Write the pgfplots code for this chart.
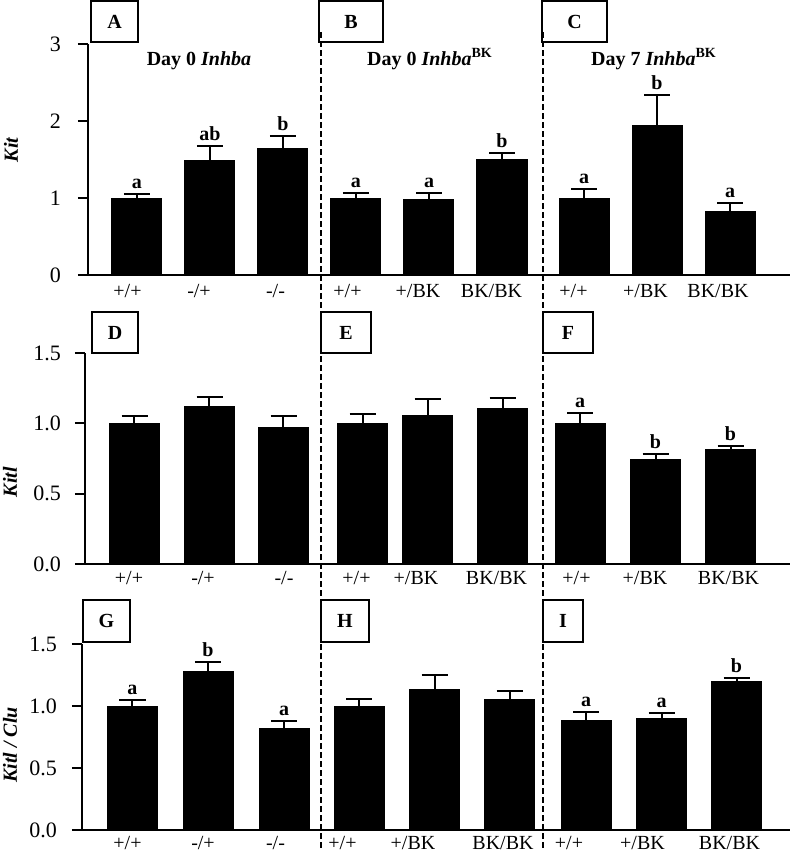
\documentclass[border=0pt]{standalone}
\usepackage{pgfplots}
\usepackage{pgfplotstable}
\pgfplotsset{compat=1.18}
\usepackage{fontspec}
\setmainfont{Liberation Serif}

\pgfplotstableread{
x y e l
137 1.00 0.05 a
210 1.49 0.19 ab
283 1.64 0.16 b
356 1.00 0.07 a
429 0.98 0.08 a
502 1.50 0.08 b
584 1.00 0.12 a
657 1.94 0.40 b
730 0.83 0.11 a
}\rowA

\pgfplotstableread{
x y e l
134.5 1.00 0.05 {}
209.5 1.12 0.065 {}
283.5 0.97 0.08 {}
362.5 1.00 0.064 {}
427.5 1.057 0.114 {}
502.5 1.107 0.072 {}
580 1.00 0.075 a
655.5 0.743 0.036 b
730.5 0.814 0.022 b
}\rowB

\pgfplotstableread{
x y e l
132.5 1.00 0.05 a
208 1.282 0.073 b
284 0.815 0.064 a
359 1.00 0.06 {}
434.5 1.137 0.113 {}
509.5 1.056 0.065 {}
586 0.887 0.065 a
661.5 0.903 0.041 a
736.5 1.194 0.032 b
}\rowC

\begin{document}
\begin{tikzpicture}
\useasboundingbox (0,0) rectangle (396pt,-426.5pt);
\pgfplotsset{
 panel/.style={
  x=0.5pt, anchor=south west, clip=false, enlargelimits=false,
  axis x line*=bottom, axis y line*=left, axis line style={-, line width=1pt},
  tick align=outside, major tick length=5pt, tick style={line width=1pt, black},
  xtick style={draw=none},
  /pgf/number format/assume math mode=true,
  yticklabel style={font=\fontsize{11}{13}\selectfont},
  xticklabel style={font=\fontsize{10}{12}\selectfont},
  xmax=790, ymin=0,
  xticklabels={+/+,-/+,-/-,+/+,+/BK,BK/BK,+/+,+/BK,BK/BK},
 },
 bars/.style={ybar, bar width=50, fill=black, draw=black, line width=0.5pt,
   error bars/.cd, y dir=plus, y explicit,
   error bar style={line width=1pt, black},
   error mark options={rotate=90, line width=1pt, mark size=6.5pt, black}},
 lett/.style={draw=none, mark=none, nodes near coords, point meta=explicit symbolic,
   nodes near coords style={anchor=south, font=\fontsize{10}{12}\selectfont\bfseries, inner sep=2.5pt, black}},
}

\begin{axis}[panel, at={(44pt,-137.5pt)}, xmin=88, ymax=3, y=38.5pt,
  ytick={0,1,2,3},
  yticklabel style={xshift=-5pt},
  xticklabel style={yshift=4pt},
  xtick={127.5,199,275.5,347.5,418,491.5,573.5,645.5,718}]
\addplot[bars] table[x=x,y=y,y error=e]{\rowA};
\addplot[lett] table[x=x, y expr=\thisrow{y}+\thisrow{e}, meta=l]{\rowA};
\end{axis}

\begin{axis}[panel, at={(42.5pt,-282pt)}, xmin=85, ymax=1.5, y=70.33pt,
  ytick={0,0.5,1,1.5}, yticklabels={0.0,0.5,1.0,1.5},
  yticklabel style={xshift=-3.5pt},
  xticklabel style={yshift=5pt},
  xtick={129,203,284,356.5,416,496.5,576.5,645,728.5}]
\addplot[bars] table[x=x,y=y,y error=e]{\rowB};
\addplot[lett] table[x=x, y expr=\thisrow{y}+\thisrow{e}, meta=l]{\rowB};
\end{axis}

\begin{axis}[panel, at={(41pt,-415pt)}, xmin=82, ymax=1.5, y=62pt,
  ytick={0,0.5,1,1.5}, yticklabels={0.0,0.5,1.0,1.5},
  yticklabel style={xshift=-4pt},
  xticklabel style={yshift=5.2pt},
  xtick={127.5,203,275.5,342.5,413,503,569,642.5,729.5}]
\addplot[bars] table[x=x,y=y,y error=e]{\rowC};
\addplot[lett] table[x=x, y expr=\thisrow{y}+\thisrow{e}, meta=l]{\rowC};
\end{axis}

\begin{scope}[x=0.5pt, y=-0.5pt]
 \draw[line width=1pt, dash pattern=on 3pt off 1.5pt] (321,32) -- (321,850);
 \draw[line width=1pt, dash pattern=on 3pt off 1.5pt] (542.5,32) -- (542.5,850);
 \begin{scope}[line width=0.8pt]
  \foreach \a/\b/\c/\d/\t in {91/1/138/42/A, 319/1/383/42/B, 542/1/607/42/C,
     92/312/138/353/D, 321/312/371/353/E, 543/312/593/353/F,
     83/600/130/642/G, 321/600/369/642/H, 543/600/583/642/I}{
   \draw (\a,\b) rectangle (\c,\d);
   \node[font=\fontsize{10}{12}\selectfont\bfseries] at ({(\a+\c)/2},{(\b+\d)/2}) {\t};
  }
 \end{scope}
 \node[anchor=base, font=\fontsize{10}{12}\selectfont\bfseries] at (199,65) {Day 0 \textit{Inhba}};
 \node[anchor=base, font=\fontsize{10}{12}\selectfont\bfseries] at (430,65) {Day 0 \textit{Inhba}\textsuperscript{BK}};
 \node[anchor=base, font=\fontsize{10}{12}\selectfont\bfseries] at (654,65) {Day 7 \textit{Inhba}\textsuperscript{BK}};
 \node[rotate=90, font=\fontsize{10}{12}\selectfont\bfseries\itshape] at (11,150) {Kit};
 \node[rotate=90, font=\fontsize{10}{12}\selectfont\bfseries\itshape] at (10,482) {Kitl};
 \node[rotate=90, font=\fontsize{10}{12}\selectfont\bfseries\itshape] at (10,745) {Kitl / Clu};
\end{scope}
\end{tikzpicture}
\end{document}
